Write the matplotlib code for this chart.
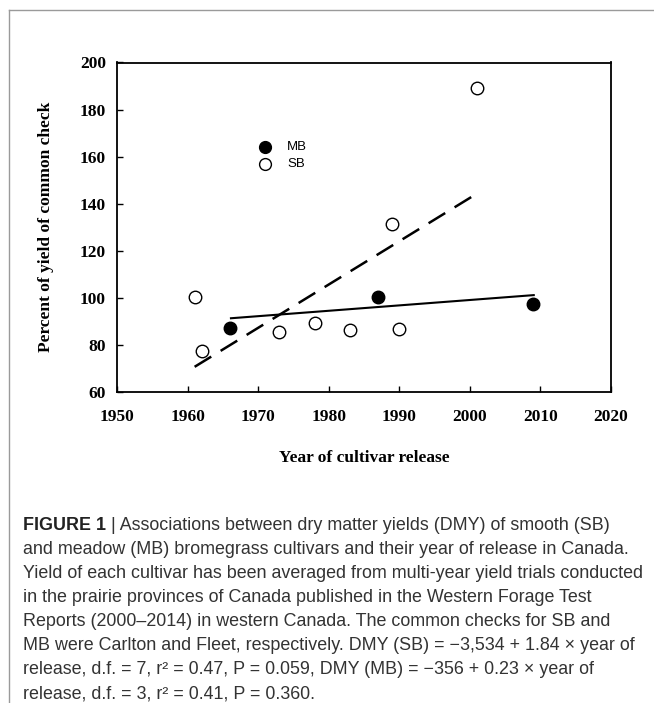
import matplotlib
matplotlib.use('Agg')
import matplotlib.pyplot as plt
from matplotlib.lines import Line2D

# data
sb_year = [1961, 1962, 1973, 1978, 1983, 1989, 1990, 2001]
sb_yield = [100.2, 77.5, 85.7, 89.4, 86.3, 131.5, 86.9, 189.3]
mb_year = [1966, 1987, 2009]
mb_yield = [87.1, 100.5, 97.2]

# fitted lines (end points as drawn)
sb_fit_x = [1961, 2001]
sb_fit_y = [70.7, 144.3]
mb_fit_x = [1966, 2009.2]
mb_fit_y = [91.3, 101.2]

x_ticks = [1950, 1960, 1970, 1980, 1990, 2000, 2010, 2020]
y_ticks = [60, 80, 100, 120, 140, 160, 180, 200]

caption_lines = [
    " | Associations between dry matter yields (DMY) of smooth (SB)",
    "and meadow (MB) bromegrass cultivars and their year of release in Canada.",
    "Yield of each cultivar has been averaged from multi-year yield trials conducted",
    "in the prairie provinces of Canada published in the Western Forage Test",
    "Reports (2000\u20132014) in western Canada. The common checks for SB and",
    "MB were Carlton and Fleet, respectively. DMY (SB) = \u22123,534 + 1.84 \u00d7 year of",
    "release, d.f. = 7, r\u00b2 = 0.47, P = 0.059, DMY (MB) = \u2212356 + 0.23 \u00d7 year of",
    "release, d.f. = 3, r\u00b2 = 0.41, P = 0.360.",
]

W, H = 654, 703
fig = plt.figure(figsize=(W / 100, H / 100), dpi=100)

def fx(px):
    return px / W

def fy(py):
    return 1 - py / H

# outer frame (top and left grey lines)
fig.add_artist(Line2D([fx(9), 1], [fy(10), fy(10)], color='#9a9a9a', lw=1.0))
fig.add_artist(Line2D([fx(9), fx(9)], [fy(10), 0], color='#9a9a9a', lw=1.0))

ax = fig.add_axes([fx(117), fy(392), (611 - 117) / W, (392 - 62.5) / H])

serif = 'Liberation Serif'

# regression lines
ax.plot(mb_fit_x, mb_fit_y, color='black', lw=1.5, solid_capstyle='butt')
dash, = ax.plot(sb_fit_x, sb_fit_y, color='black', lw=1.8)
dash.set_dashes([7.8, 4.4])

# points
ax.plot(sb_year, sb_yield, 'o', ms=9, mfc='white', mec='black', mew=1.0, zorder=3)
ax.plot(mb_year, mb_yield, 'o', ms=9, mfc='black', mec='black', mew=1.0, zorder=3)

ax.set_xlim(1950, 2020)
ax.set_ylim(60, 200)
ax.set_xticks(x_ticks)
ax.set_yticks(y_ticks)
ax.tick_params(direction='in', length=4, width=1.0, colors='black')
ax.tick_params(axis='x', pad=12)
ax.tick_params(axis='y', pad=8)
for lab in ax.get_xticklabels() + ax.get_yticklabels():
    lab.set_fontfamily(serif)
    lab.set_fontweight('bold')
    lab.set_fontsize(12.5)
for sp in ax.spines.values():
    sp.set_linewidth(1.3)

# legend drawn by hand inside the axes
fig.add_artist(Line2D([fx(265)], [fy(147)], marker='o', ms=8.5, mfc='black', mec='black', ls='none'))
fig.add_artist(Line2D([fx(265)], [fy(164)], marker='o', ms=8.5, mfc='white', mec='black', mew=1.0, ls='none'))
fig.text(fx(287), fy(147), 'MB', fontsize=9.5, family='Liberation Sans', va='center', ha='left')
fig.text(fx(287), fy(164), 'SB', fontsize=9.5, family='Liberation Sans', va='center', ha='left')

# axis labels
fig.text(fx(46), fy(227), 'Percent of yield of common check', rotation=90,
         family=serif, fontweight='bold', fontsize=12.5, ha='center', va='center')
fig.text(fx(364), fy(458), 'Year of cultivar release',
         family=serif, fontweight='bold', fontsize=12.5, ha='center', va='center')

# caption
cap_size = 12.9
y0 = 525
step = 24.1
head = fig.text(fx(23), fy(y0), 'FIGURE 1', family='Liberation Sans', fontweight='bold',
                fontsize=cap_size, ha='left', va='center', color='#222222')
fig.canvas.draw()
bb = head.get_window_extent(fig.canvas.get_renderer())
fig.text(bb.x1 / W, fy(y0), caption_lines[0], family='Liberation Sans',
         fontsize=cap_size, ha='left', va='center', color='#333333')
for i, line in enumerate(caption_lines[1:], start=1):
    fig.text(fx(23), fy(y0 + i * step), line, family='Liberation Sans',
             fontsize=cap_size, ha='left', va='center', color='#333333')

fig.savefig('out.png', dpi=100)
